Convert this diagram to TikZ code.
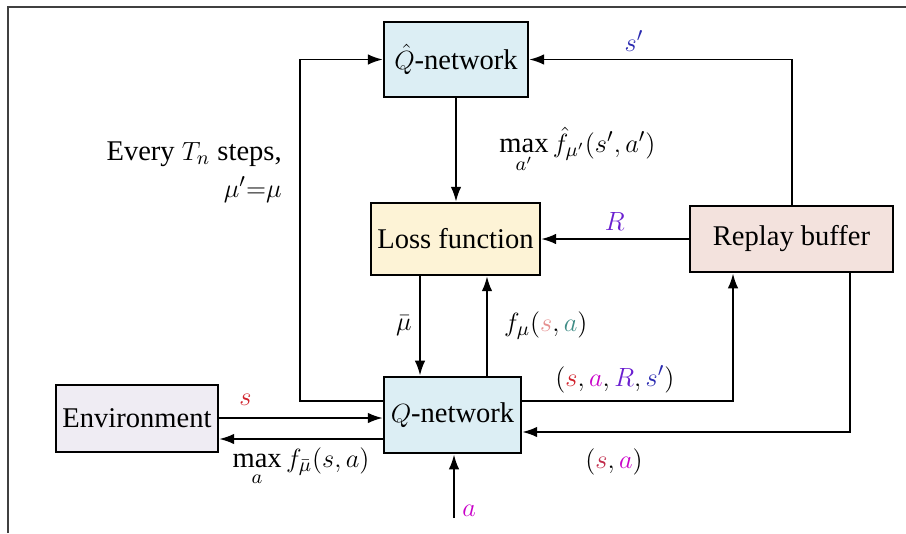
\documentclass[tikz,border=0pt]{standalone}
\usepackage{amsmath}
\usepackage{fontspec}
\setmainfont{Liberation Serif}
\usetikzlibrary{arrows.meta}

\definecolor{qblue}{HTML}{DCEEF4}
\definecolor{lossyellow}{HTML}{FDF3D6}
\definecolor{replaypink}{HTML}{F3E2DD}
\definecolor{envlavender}{HTML}{EFECF3}
\definecolor{sred}{HTML}{D0202A}
\definecolor{srose}{HTML}{C02848}
\definecolor{spale}{HTML}{E59090}
\definecolor{amag}{HTML}{C800C8}
\definecolor{ateal}{HTML}{3F8C86}
\definecolor{rpurple}{HTML}{6A1FD0}
\definecolor{sblue}{HTML}{2A2AB0}

\begin{document}
\begin{tikzpicture}[x={(0.016cm,0cm)}, y={(0cm,-0.016cm)},
  font=\fontsize{13}{17}\selectfont,
  >={Latex[length=2.4mm,width=1.7mm]}, line width=0.9pt,
  block/.style={draw,rectangle,line width=1.2pt,inner sep=2pt}]
  \useasboundingbox (0,0) rectangle (906,533);
  \draw[black!75,line width=1pt] (8,533) -- (8,7) -- (906,7);

  % Nodes
  \node[block,fill=qblue,minimum width=2.30cm,minimum height=1.20cm] (QHat) at (456,59.5) {$\hat{Q}$-network};
  \node[block,fill=lossyellow,minimum width=2.70cm,minimum height=1.15cm] (Loss) at (455.5,239) {Loss function};
  \node[block,fill=replaypink,minimum width=3.25cm,minimum height=1.06cm] (Replay) at (791.5,239) {Replay buffer};
  \node[block,fill=qblue,minimum width=2.19cm,minimum height=1.22cm] (QNet) at (452.5,415) {$Q$-network};
  \node[block,fill=envlavender,minimum width=2.59cm,minimum height=1.07cm] (Env) at (137,418.5) {Environment};

  \coordinate (LoopL) at (300,401);
  \coordinate (ToReplay) at (733,401);
  \coordinate (FromReplay) at (850,432);
  \coordinate (MuX) at (420,0);
  \coordinate (FX) at (487,0);
  \coordinate (EnvIn) at (0,418);
  \coordinate (EnvOut) at (0,439);
  \coordinate (AIn) at (454,518);

  \node[anchor=east,align=right] (Every) at (290,172) {Every $T_n$ steps,\\ $\mu'{=}\mu$};

  % Edges
  \draw[->] (QHat.south) -- (QHat.south |- Loss.north) node[midway,right=16pt] {$\max\limits_{a'}\hat{f}_{\mu'}(s',a')$};
  \draw[->] (Replay.west) -- (Loss.east) node[midway,above] {\color{rpurple}$R$};
  \draw[->] (Replay.north) |- (QHat.east) node[pos=0.8,above] {\color{sblue}$s'$};
  \draw[->] (Loss.south -| MuX) -- (QNet.north -| MuX) node[midway,left] {$\bar{\mu}$};
  \draw[->] (QNet.north -| FX) -- (Loss.south -| FX) node[midway,right=4pt] {$f_{\mu}({\color{spale}s},{\color{ateal}a})$};
  \draw[->] (QNet.west |- LoopL) -- (LoopL) |- (QHat.west);
  \draw[->] (Env.east |- EnvIn) -- (QNet.west |- EnvIn) node[pos=0.16,above=2pt] {\color{sred}$s$};
  \draw[->] (QNet.west |- EnvOut) -- (Env.east |- EnvOut) node[midway,below] {$\max\limits_{a} f_{\bar{\mu}}(s,a)$};
  \draw[->] (QNet.east |- ToReplay) -| (Replay.south -| ToReplay) node[pos=0.22,above] {$({\color{sred}s},{\color{amag}a},{\color{rpurple}R},{\color{sblue}s'})$};
  \draw[->] (Replay.south -| FromReplay) |- (QNet.east |- FromReplay) node[pos=0.86,below=4pt] {$({\color{srose}s},{\color{amag}a})$};
  \draw[->] (AIn) -- (QNet.south -| AIn) node[pos=0.12,right] {\color{amag}$a$};
\end{tikzpicture}
\end{document}
